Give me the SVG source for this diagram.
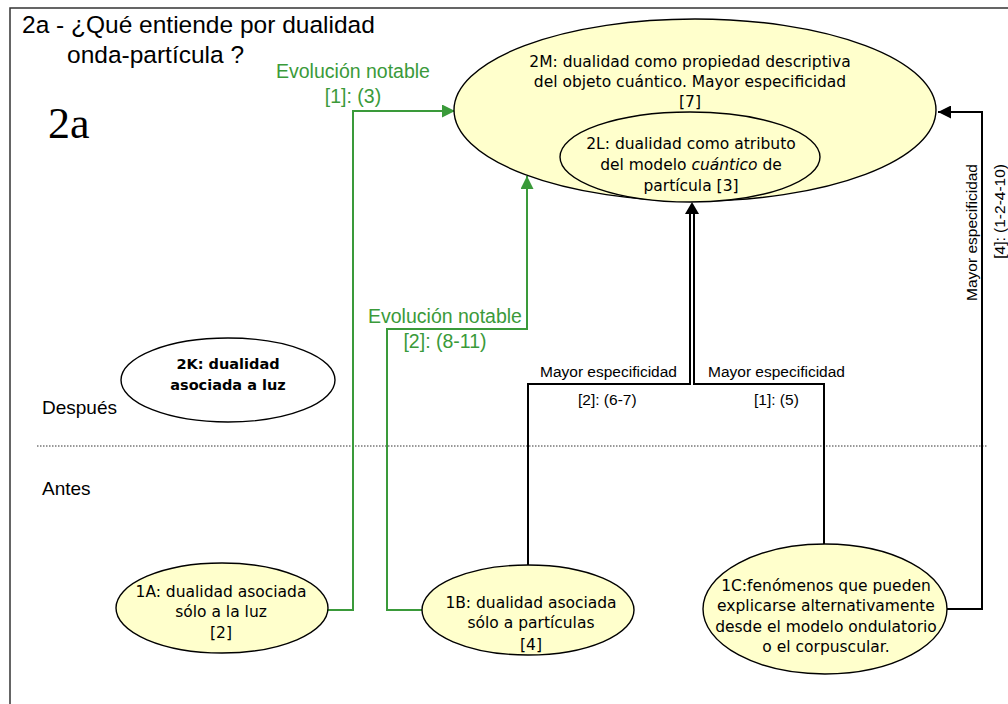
<svg xmlns="http://www.w3.org/2000/svg" width="1008" height="704" viewBox="0 0 1008 704">
<defs>
<style>
.frame{fill:none;stroke:#333;stroke-width:1.5}
.node{fill:#ffffcc;stroke:#000;stroke-width:1.4}
.nodew{fill:#fff;stroke:#000;stroke-width:1.4}
.nt{font-family:"DejaVu Sans",sans-serif;font-size:15.5px;fill:#000;text-anchor:middle}
.nb{font-family:"DejaVu Sans",sans-serif;font-size:14.5px;font-weight:bold;fill:#000;text-anchor:middle}
.lab{font-family:"Liberation Sans",Arial,sans-serif;font-size:15.5px;fill:#000}
.glab{font-family:"Liberation Sans",Arial,sans-serif;font-size:19.5px;fill:#3a9a3a;text-anchor:middle}
.title{font-family:"Liberation Sans",Arial,sans-serif;font-size:24.5px;fill:#000}
.side{font-family:"Liberation Sans",Arial,sans-serif;font-size:19px;fill:#000}
.blk{fill:none;stroke:#000;stroke-width:2}
.grn{fill:none;stroke:#3a9a3a;stroke-width:2}
</style>
<marker id="ab" markerUnits="userSpaceOnUse" markerWidth="13" markerHeight="13" viewBox="0 0 13 13" refX="13" refY="6.5" orient="auto"><path d="M0,0 L13,6.5 L0,13 z" fill="#000"/></marker>
<marker id="ag" markerUnits="userSpaceOnUse" markerWidth="13" markerHeight="13" viewBox="0 0 13 13" refX="13" refY="6.5" orient="auto"><path d="M0,0 L13,6.5 L0,13 z" fill="#3a9a3a"/></marker>
</defs>
<rect width="1008" height="704" fill="#fff"/>
<path class="frame" d="M10,704 V8 H1008"/>
<g id="title">
<text class="title" x="22" y="33">2a - ¿Qué entiende por dualidad</text>
<text class="title" x="67" y="63">onda-partícula ?</text>
<text x="48" y="138" font-family="'Liberation Serif',serif" font-size="44">2a</text>
</g>
<line x1="37" y1="446" x2="988" y2="446" stroke="#333" stroke-width="1" stroke-dasharray="1.5,1.5"/>
<text class="side" x="42" y="414">Después</text>
<text class="side" x="42" y="495">Antes</text>
<g id="connectors">
<path class="grn" d="M328,610 H353 V111 H455" marker-end="url(#ag)"/>
<path class="grn" d="M422,610 H387 V329 H527 V176" marker-end="url(#ag)"/>
<path class="blk" d="M528,565 V384 H690 V212"/>
<path class="blk" d="M824,544 V384 H694 V212"/>
<polygon points="692,202 685,214 699,214" fill="#000"/>
<path class="blk" d="M947,609 H982 V112 H938" marker-end="url(#ab)"/>
<text class="glab" x="353" y="78">Evolución notable</text>
<text class="glab" x="353" y="103">[1]: (3)</text>
<text class="glab" x="445" y="323">Evolución notable</text>
<text class="glab" x="445" y="348">[2]: (8-11)</text>
<text class="lab" x="540" y="377">Mayor especificidad</text>
<text class="lab" x="708" y="377">Mayor especificidad</text>
<text class="lab" x="578" y="405">[2]: (6-7)</text>
<text class="lab" x="754" y="405">[1]: (5)</text>
<text class="lab" transform="translate(977,164) rotate(-90)" text-anchor="end">Mayor especificidad</text>
<text class="lab" transform="translate(1005,164) rotate(-90)" text-anchor="end">[4]: (1-2-4-10)</text>
</g>
<g id="n2M">
<ellipse class="node" cx="695" cy="110" rx="241" ry="91"/>
<text class="nt" x="690" y="67">2M: dualidad como propiedad descriptiva</text>
<text class="nt" x="690" y="87">del objeto cuántico. Mayor especificidad</text>
<text class="nt" x="690" y="107">[7]</text>
</g>
<g id="n2L">
<ellipse class="node" cx="690" cy="157" rx="130" ry="45"/>
<text class="nt" x="691" y="149">2L: dualidad como atributo</text>
<text class="nt" x="691" y="170">del modelo <tspan font-style="italic">cuántico</tspan> de</text>
<text class="nt" x="691" y="191">partícula [3]</text>
</g>
<g id="n2K">
<ellipse class="nodew" cx="228" cy="380" rx="107" ry="42"/>
<text class="nb" x="228" y="369">2K: dualidad</text>
<text class="nb" x="228" y="390">asociada a luz</text>
</g>
<g id="n1A">
<ellipse class="node" cx="222" cy="608" rx="106" ry="45"/>
<text class="nt" x="221" y="597">1A: dualidad asociada</text>
<text class="nt" x="221" y="617">sólo a la luz</text>
<text class="nt" x="221" y="638">[2]</text>
</g>
<g id="n1B">
<ellipse class="node" cx="528" cy="610" rx="106" ry="45"/>
<text class="nt" x="531" y="608">1B: dualidad asociada</text>
<text class="nt" x="531" y="628">sólo a partículas</text>
<text class="nt" x="531" y="650">[4]</text>
</g>
<g id="n1C">
<ellipse class="node" cx="825" cy="609" rx="122" ry="65"/>
<text class="nt" x="826" y="591">1C:fenómenos que pueden</text>
<text class="nt" x="826" y="611">explicarse alternativamente</text>
<text class="nt" x="826" y="632">desde el modelo ondulatorio</text>
<text class="nt" x="826" y="652">o el corpuscular.</text>
</g>
</svg>
